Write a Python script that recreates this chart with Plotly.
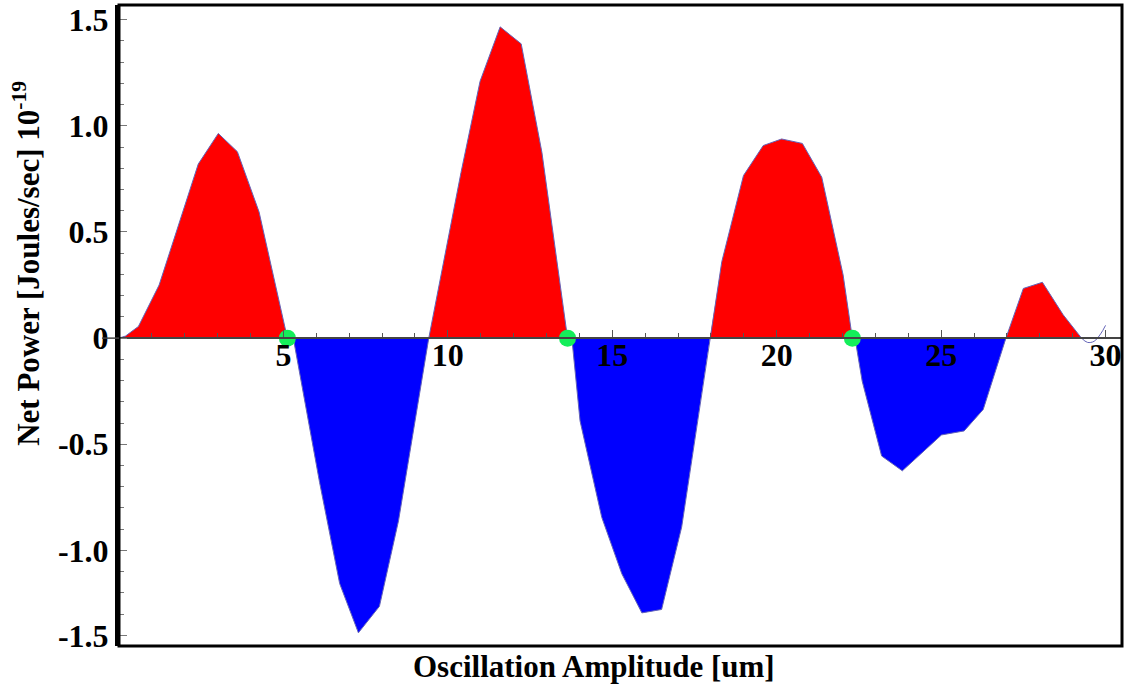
import numpy as np
import plotly.graph_objects as go

# Oscillation amplitude [um] and net power [Joules/sec x 1e-19]
amp = [0, 0.2, 0.59, 1.22, 2.41, 3.02, 3.6, 4.26, 5.12, 5.3, 6.1, 6.71, 7.28, 7.92,
       8.5, 9.0, 9.42, 10.4, 10.98, 11.59, 12.23, 12.86, 13.64, 13.77, 14.02, 14.68,
       15.29, 15.9, 16.5, 17.11, 17.97, 18.33, 18.99, 19.59, 20.15, 20.78, 21.37,
       22.02, 22.3, 22.38, 22.6, 23.19, 23.82, 24.41, 25.01, 25.7, 26.28, 26.97,
       27.5, 28.08, 28.71, 29.27]
power = [0, 0.01, 0.055, 0.25, 0.82, 0.964, 0.878, 0.594, 0, 0, -0.68, -1.156, -1.388,
         -1.263, -0.86, -0.40, 0, 0.78, 1.21, 1.466, 1.386, 0.875, 0, 0, -0.39, -0.844,
         -1.11, -1.294, -1.278, -0.89, 0, 0.36, 0.766, 0.907, 0.938, 0.917, 0.758,
         0.297, 0, 0, -0.203, -0.555, -0.625, -0.539, -0.456, -0.437, -0.336, 0,
         0.234, 0.263, 0.11, 0]

# unfilled tail of the curve
tail_amp = [29.27, 29.45, 29.65, 29.85, 30.0]
tail_power = [0, -0.02, -0.015, 0.02, 0.06]

# downward zero crossings (green markers)
cross_amp = [5.12, 13.64, 22.3]
cross_power = [0, 0, 0]

x_ticks = [5, 10, 15, 20, 25, 30]
x_ticktext = ["5", "10", "15", "20", "25", "30"]
y_tickvals = [-1.4, -1.0, -0.5, 0, 0.5, 1.0, 1.5]
y_ticktext = ["-1.5", "-1.0", "-0.5", "0", "0.5", "1.0", "1.5"]

x_range = [0, 30.5]
y_range = [-1.45, 1.569]

pw = np.array(power)
pos = np.maximum(pw, 0)
neg = np.minimum(pw, 0)

FONT = "Liberation Serif"

fig = go.Figure()
fig.add_trace(go.Scatter(x=amp, y=pos, mode="lines", fill="tozeroy",
                         fillcolor="#ff0000", line=dict(width=0, color="#ff0000"),
                         hoverinfo="skip", showlegend=False))
fig.add_trace(go.Scatter(x=amp, y=neg, mode="lines", fill="tozeroy",
                         fillcolor="#0000ff", line=dict(width=0, color="#0000ff"),
                         hoverinfo="skip", showlegend=False))
fig.add_trace(go.Scatter(x=amp, y=power, mode="lines",
                         line=dict(width=1, color="#6464b8"), showlegend=False))
fig.add_trace(go.Scatter(x=tail_amp, y=tail_power, mode="lines",
                         line=dict(width=1, color="#6464b8", shape="spline"),
                         showlegend=False))
fig.add_trace(go.Scatter(x=cross_amp, y=cross_power, mode="markers",
                         marker=dict(size=17, color="#14ee5a"), showlegend=False,
                         cliponaxis=False))

zero_pos = (0 - y_range[0]) / (y_range[1] - y_range[0])

fig.update_layout(
    width=1128, height=693,
    margin=dict(l=119, r=6, t=2, b=47),
    paper_bgcolor="white", plot_bgcolor="white",
    font=dict(family=FONT, color="black"),
    xaxis=dict(range=x_range, anchor="free", position=zero_pos,
               showgrid=False, zeroline=False,
               showline=True, linecolor="#444444", linewidth=1.5,
               tickmode="array", tickvals=x_ticks, ticktext=x_ticktext,
               ticks="inside", ticklen=7, tickwidth=1, tickcolor="#555555",
               minor=dict(dtick=1, tick0=0, ticks="inside", ticklen=4,
                          tickcolor="#555555", tickwidth=1),
               tickfont=dict(family=FONT, size=32, color="black", weight="bold"),
               ticklabelstandoff=-11, ticklabeloverflow="allow",
               layer="above traces"),
    yaxis=dict(range=y_range, showgrid=False, zeroline=False,
               showline=True, linecolor="black", linewidth=4,
               tickmode="array", tickvals=y_tickvals, ticktext=y_ticktext,
               ticks="inside", ticklen=8, tickwidth=1, tickcolor="#777777",
               minor=dict(tickvals=list(np.round(np.arange(-1.4, 1.55, 0.1), 2)),
                          ticks="inside", ticklen=5, tickcolor="#777777", tickwidth=1),
               tickfont=dict(family=FONT, size=32, color="black", weight="bold"),
               ticklabeloverflow="allow"),
    shapes=[
        dict(type="rect", xref="paper", yref="paper", x0=0, x1=1, y0=0, y1=1,
             line=dict(color="black", width=3), layer="above"),
        dict(type="line", xref="paper", yref="y", x0=-0.017, x1=0, y0=0, y1=0,
             line=dict(color="#444444", width=1.5)),
    ],
    annotations=[
        dict(text="<b>Net Power [Joules/sec] 10<sup>-19</sup></b>", xref="paper",
             yref="paper", x=(27 - 119) / 1003, y=(646 - 262) / 644, textangle=-90,
             showarrow=False, xanchor="center", yanchor="middle",
             font=dict(family=FONT, size=31, color="black")),
        dict(text="<b>Oscillation Amplitude [um]</b>", xref="paper", yref="paper",
             x=(594 - 119) / 1003, y=-(667 - 646) / 644, showarrow=False,
             xanchor="center", yanchor="middle",
             font=dict(family=FONT, size=31, color="black")),
    ],
)

fig.write_html("out.html")
